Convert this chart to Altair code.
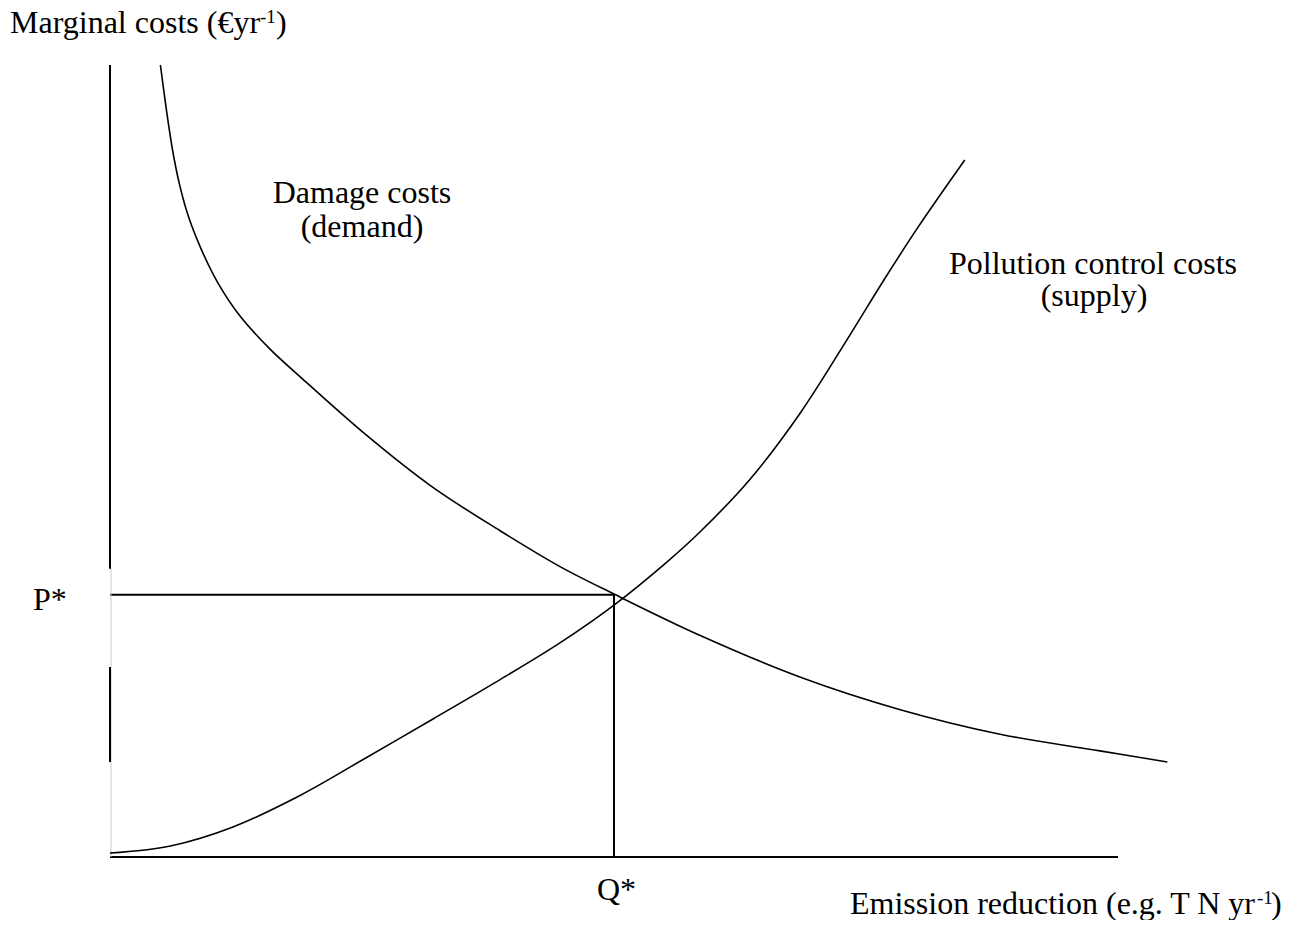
import altair as alt
import pandas as pd

# ---- data (abstract units: emission reduction q, marginal cost c) ----
damage_q = [0.50, 0.56, 0.62, 0.69, 0.78, 0.91, 1.07, 1.29, 1.59, 1.89, 2.55, 3.20,
            3.87, 4.46, 5.00, 5.85, 6.85, 7.84, 8.83, 9.82, 10.49]
damage_c = [10.00, 9.43, 8.93, 8.49, 8.08, 7.66, 7.25, 6.83, 6.41, 6.06, 5.32, 4.67,
            4.12, 3.67, 3.32, 2.80, 2.27, 1.86, 1.55, 1.34, 1.20]

supply_q = [0.00, 0.60, 1.22, 1.89, 2.55, 3.20, 3.87, 4.46, 5.00, 5.53, 5.85, 6.35,
            6.85, 7.34, 7.67, 8.01, 8.48]
supply_c = [0.05, 0.14, 0.38, 0.78, 1.26, 1.74, 2.24, 2.70, 3.18, 3.73, 4.10, 4.77,
            5.61, 6.59, 7.27, 7.94, 8.80]

q_star = 5.0
p_star = 3.31
q_axis_end = 10.0
c_axis_end = 10.0
# visible dark pieces of the cost axis (rest is faint)
c_axis_dark = [(3.64, 10.0), (1.20, 2.40)]

damage_df = pd.DataFrame({"q": damage_q, "c": damage_c})
supply_df = pd.DataFrame({"q": supply_q, "c": supply_c})

W, H = 1008, 792
xs = alt.Scale(domain=[0, q_axis_end], nice=False, zero=False)
ys = alt.Scale(domain=[0, c_axis_end], nice=False, zero=False)

def curve(df):
    return alt.Chart(df).mark_line(color="black", strokeWidth=1.6, interpolate="catmull-rom").encode(
        x=alt.X("q:Q", scale=xs, axis=None),
        y=alt.Y("c:Q", scale=ys, axis=None),
    )

seg_rows = [
    {"x1": 0, "x2": q_axis_end, "y1": 0, "y2": 0, "w": 2.2, "col": "black"},
    {"x1": 0, "x2": q_star, "y1": p_star, "y2": p_star, "w": 2.0, "col": "black"},
    {"x1": q_star, "x2": q_star, "y1": 0, "y2": p_star, "w": 2.0, "col": "black"},
    {"x1": 0.01, "x2": 0.01, "y1": 0, "y2": c_axis_dark[0][0], "w": 1.0, "col": "#c8c8c8"},
]
for lo, hi in c_axis_dark:
    seg_rows.append({"x1": 0, "x2": 0, "y1": lo, "y2": hi, "w": 2.0, "col": "black"})
seg_df = pd.DataFrame(seg_rows)

segs = alt.Chart(seg_df).mark_rule().encode(
    x=alt.X("x1:Q", scale=xs, axis=None),
    x2="x2:Q",
    y=alt.Y("y1:Q", scale=ys, axis=None),
    y2="y2:Q",
    color=alt.Color("col:N", scale=None),
    strokeWidth=alt.StrokeWidth("w:Q", scale=None),
)

FONT = "Liberation Serif"

def label(text, px, py, size=32, align="left"):
    return alt.Chart(pd.DataFrame({"t": [text]})).mark_text(
        font=FONT, fontSize=size, align=align, baseline="alphabetic", color="black"
    ).encode(x=alt.value(px), y=alt.value(py), text="t:N")

texts = [
    label("Marginal costs (€yr", -100, -32),
    label("-1", 150, -42, size=19),
    label(")", 166, -32),
    label("Damage costs", 252, 138, align="center"),
    label("(demand)", 252, 172, align="center"),
    label("Pollution control costs", 983, 209, align="center"),
    label("(supply)", 984, 241, align="center"),
    label("P*", -77, 545),
    label("Q*", 487, 835),
    label("Emission reduction (e.g. T N yr", 740, 849),
    label("-1", 1147, 839, size=19),
    label(")", 1161, 849),
]

chart = alt.layer(segs, curve(damage_df), curve(supply_df), *texts).properties(
    width=W, height=H,
    autosize=alt.AutoSizeParams(type="none"),
    padding={"left": 102, "top": 57, "right": 168, "bottom": 63},
).configure(background="white", view=alt.ViewConfig(stroke=None))

chart.save("out.html", embed_options={"renderer": "svg", "actions": False})
